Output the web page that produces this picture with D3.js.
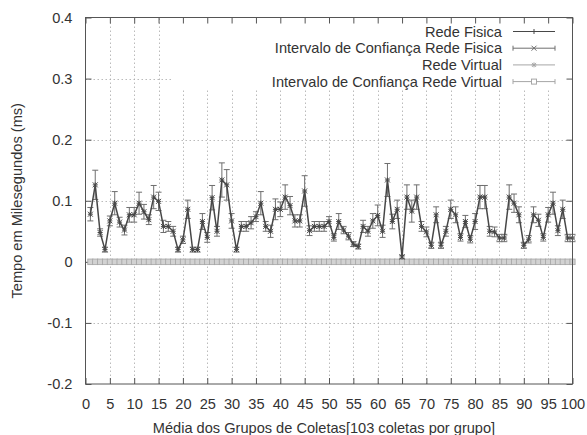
<!DOCTYPE html>
<html>
<head>
<meta charset="utf-8">
<script src="https://cdn.jsdelivr.net/npm/d3@7"></script>
<style>
  html, body { margin: 0; padding: 0; background: #fff; }
  svg { display: block; }
  text { font-family: "Liberation Sans", Arial, sans-serif; fill: #333; }
</style>
</head>
<body>
<svg id="chart" width="587" height="435"></svg>
<script>
// Group index (1..100)
const grupos = [
  1,2,3,4,5,6,7,8,9,10,11,12,13,14,15,16,17,18,19,20,
  21,22,23,24,25,26,27,28,29,30,31,32,33,34,35,36,37,38,39,40,
  41,42,43,44,45,46,47,48,49,50,51,52,53,54,55,56,57,58,59,60,
  61,62,63,64,65,66,67,68,69,70,71,72,73,74,75,76,77,78,79,80,
  81,82,83,84,85,86,87,88,89,90,91,92,93,94,95,96,97,98,99,100
];

// Mean latency per group, physical network (ms)
const redeFisica = [
  0.078,0.126,0.048,0.020,0.067,0.096,0.065,0.052,0.077,0.077,
  0.096,0.082,0.069,0.106,0.099,0.058,0.058,0.050,0.020,0.036,
  0.086,0.020,0.020,0.066,0.040,0.105,0.050,0.134,0.126,0.067,
  0.020,0.058,0.058,0.064,0.074,0.096,0.058,0.050,0.086,0.086,
  0.106,0.092,0.067,0.067,0.116,0.051,0.058,0.058,0.058,0.066,
  0.040,0.066,0.052,0.042,0.029,0.025,0.058,0.050,0.067,0.076,
  0.050,0.134,0.066,0.086,0.008,0.106,0.083,0.106,0.058,0.049,
  0.027,0.077,0.027,0.050,0.086,0.077,0.040,0.066,0.037,0.066,
  0.106,0.106,0.050,0.049,0.039,0.039,0.106,0.096,0.077,0.027,
  0.037,0.077,0.068,0.040,0.077,0.096,0.051,0.086,0.039,0.039
];

// Confidence interval half-width, physical network (ms)
const icFisica = [
  0.011,0.024,0.006,0.004,0.008,0.019,0.008,0.008,0.012,0.012,
  0.018,0.012,0.008,0.019,0.015,0.010,0.008,0.008,0.004,0.006,
  0.015,0.004,0.004,0.013,0.008,0.020,0.008,0.028,0.025,0.012,
  0.004,0.008,0.008,0.010,0.008,0.019,0.008,0.010,0.017,0.012,
  0.020,0.015,0.010,0.010,0.025,0.008,0.008,0.008,0.008,0.008,
  0.006,0.013,0.006,0.006,0.004,0.004,0.010,0.008,0.012,0.017,
  0.010,0.027,0.012,0.015,0.003,0.020,0.018,0.020,0.008,0.008,
  0.005,0.013,0.005,0.008,0.015,0.013,0.006,0.010,0.006,0.013,
  0.019,0.019,0.008,0.008,0.006,0.006,0.020,0.015,0.013,0.005,
  0.006,0.013,0.010,0.006,0.012,0.018,0.008,0.015,0.006,0.006
];

// Mean latency per group, virtual network (ms)
const redeVirtual = [
  0,0,0,0,0,0,0,0,0,0, 0,0,0,0,0,0,0,0,0,0,
  0,0,0,0,0,0,0,0,0,0, 0,0,0,0,0,0,0,0,0,0,
  0,0,0,0,0,0,0,0,0,0, 0,0,0,0,0,0,0,0,0,0,
  0,0,0,0,0,0,0,0,0,0, 0,0,0,0,0,0,0,0,0,0,
  0,0,0,0,0,0,0,0,0,0, 0,0,0,0,0,0,0,0,0,0
];

// Confidence interval half-width, virtual network (ms)
const icVirtual = [
  0.003,0.003,0.003,0.003,0.003,0.003,0.003,0.003,0.003,0.003,
  0.003,0.003,0.003,0.003,0.003,0.003,0.003,0.003,0.003,0.003,
  0.003,0.003,0.003,0.003,0.003,0.003,0.003,0.003,0.003,0.003,
  0.003,0.003,0.003,0.003,0.003,0.003,0.003,0.003,0.003,0.003,
  0.003,0.003,0.003,0.003,0.003,0.003,0.003,0.003,0.003,0.003,
  0.003,0.003,0.003,0.003,0.003,0.003,0.003,0.003,0.003,0.003,
  0.003,0.003,0.003,0.003,0.003,0.003,0.003,0.003,0.003,0.003,
  0.003,0.003,0.003,0.003,0.003,0.003,0.003,0.003,0.003,0.003,
  0.003,0.003,0.003,0.003,0.003,0.003,0.003,0.003,0.003,0.003,
  0.003,0.003,0.003,0.003,0.003,0.003,0.003,0.003,0.003,0.003
];

const xTicks = [0,5,10,15,20,25,30,35,40,45,50,55,60,65,70,75,80,85,90,95,100];
const yTicks = [-0.2,-0.1,0,0.1,0.2,0.3,0.4];
const yTickLabels = ["-0.2","-0.1","0","0.1","0.2","0.3","0.4"];

const legendLabels = [
  "Rede Fisica",
  "Intervalo de Confiança Rede Fisica",
  "Rede Virtual",
  "Intervalo de Confiança Rede Virtual"
];
const xTitle = "Média dos Grupos de Coletas[103 coletas por grupo]";
const yTitle = "Tempo em Milesegundos (ms)";

// ---- layout ----
const L = 85.5, R = 572.5, T = 17.5, B = 384;
const FONT = "14.6px";
const svg = d3.select("#chart");
const x = d3.scaleLinear().domain([0, 100]).range([L, R]);
const y = d3.scaleLinear().domain([-0.2, 0.4]).range([B, T]);

const fis = grupos.map((g, i) => ({ g, v: redeFisica[i], e: icFisica[i] }));
const vir = grupos.map((g, i) => ({ g, v: redeVirtual[i], e: icVirtual[i] }));

const C_BORDER = "#555";
const C_GRID = "#aaa";
const C_FIS = "#474747";
const C_FIS_ERR = "#6e6e6e";
const C_VIR = "#b8b8b8";
const C_VIR_ERR = "#a6a6a6";

// key area (opaque, hides grid)
const key = { x0: 172, x1: R, y0: T, y1: 90.5 };

// ---- grid ----
const grid = svg.append("g").attr("stroke", C_GRID).attr("stroke-width", 0.8)
  .attr("stroke-dasharray", "1.5,2.5").attr("fill", "none");
xTicks.filter(t => t > 0 && t < 100).forEach(t => {
  const px = Math.round(x(t)) + 0.5;
  const top = (px > key.x0 && px < key.x1) ? key.y1 : T;
  grid.append("line").attr("x1", px).attr("x2", px).attr("y1", B).attr("y2", top);
});
yTicks.filter(t => t > -0.2 && t < 0.4).forEach(t => {
  const py = Math.round(y(t)) + 0.5;
  const right = (py > key.y0 && py < key.y1) ? key.x0 : R;
  grid.append("line").attr("x1", L).attr("x2", right).attr("y1", py).attr("y2", py);
});

// ---- axes (ticks inward on all four sides) ----
const tickLen = 6;
const axisBottom = d3.axisBottom(x).tickValues(xTicks).tickSize(-tickLen).tickPadding(tickLen + 9)
  .tickFormat(d3.format("d"));
const axisTop = d3.axisTop(x).tickValues(xTicks).tickSize(-tickLen).tickFormat("");
const axisLeft = d3.axisLeft(y).tickValues(yTicks).tickSize(-tickLen).tickPadding(tickLen + 7)
  .tickFormat((d, i) => yTickLabels[i]);
const axisRight = d3.axisRight(y).tickValues(yTicks).tickSize(-tickLen).tickFormat("");

function styleAxis(g) {
  g.select(".domain").remove();
  g.selectAll(".tick line").attr("stroke", C_BORDER).attr("stroke-width", 1);
  g.selectAll(".tick text").attr("fill", "#333").style("font-size", FONT)
    .style("font-family", '"Liberation Sans", Arial, sans-serif');
}
svg.append("g").attr("transform", `translate(0,${B})`).call(axisBottom).call(styleAxis);
svg.append("g").attr("transform", `translate(0,${T})`).call(axisTop).call(styleAxis);
svg.append("g").attr("transform", `translate(${L},0)`).call(axisLeft).call(styleAxis);
svg.append("g").attr("transform", `translate(${R},0)`).call(axisRight).call(styleAxis);

// ---- virtual network series ----
const gv = svg.append("g");
gv.selectAll("line.err").data(vir).join("line")
  .attr("x1", d => x(d.g)).attr("x2", d => x(d.g))
  .attr("y1", d => y(d.v - d.e)).attr("y2", d => y(d.v + d.e))
  .attr("stroke", C_VIR_ERR).attr("stroke-width", 1);
gv.append("path").datum(vir)
  .attr("d", d3.line().x(d => x(d.g)).y(d => y(d.v)))
  .attr("fill", "none").attr("stroke", C_VIR).attr("stroke-width", 2);
gv.selectAll("rect.box").data(vir).join("rect")
  .attr("x", d => x(d.g) - 2.6).attr("y", d => y(d.v) - 2.8)
  .attr("width", 5.2).attr("height", 5.6)
  .attr("fill", "#d2d2d2").attr("stroke", C_VIR_ERR).attr("stroke-width", 0.8);

// ---- physical network series ----
const gf = svg.append("g");
const capW = 3;
gf.selectAll("line.err").data(fis).join("line")
  .attr("x1", d => x(d.g)).attr("x2", d => x(d.g))
  .attr("y1", d => y(d.v - d.e)).attr("y2", d => y(d.v + d.e))
  .attr("stroke", C_FIS_ERR).attr("stroke-width", 1);
gf.selectAll("line.capHi").data(fis).join("line")
  .attr("x1", d => x(d.g) - capW).attr("x2", d => x(d.g) + capW)
  .attr("y1", d => y(d.v + d.e)).attr("y2", d => y(d.v + d.e))
  .attr("stroke", C_FIS_ERR).attr("stroke-width", 1);
gf.selectAll("line.capLo").data(fis).join("line")
  .attr("x1", d => x(d.g) - capW).attr("x2", d => x(d.g) + capW)
  .attr("y1", d => y(d.v - d.e)).attr("y2", d => y(d.v - d.e))
  .attr("stroke", C_FIS_ERR).attr("stroke-width", 1);
gf.append("path").datum(fis)
  .attr("d", d3.line().x(d => x(d.g)).y(d => y(d.v)))
  .attr("fill", "none").attr("stroke", C_FIS).attr("stroke-width", 1.5);
// "+" / "x" point marks
gf.selectAll("path.mk").data(fis).join("path")
  .attr("d", d => {
    const cx = x(d.g), cy = y(d.v), s = 2.5;
    return `M${cx - s},${cy}H${cx + s}M${cx},${cy - s}V${cy + s}` +
           `M${cx - s},${cy - s}L${cx + s},${cy + s}M${cx - s},${cy + s}L${cx + s},${cy - s}`;
  })
  .attr("stroke", C_FIS).attr("stroke-width", 1).attr("fill", "none");

// ---- border ----
svg.append("rect").attr("x", L).attr("y", T).attr("width", R - L).attr("height", B - T)
  .attr("fill", "none").attr("stroke", C_BORDER).attr("stroke-width", 1);

// ---- key ----
const kg = svg.append("g");
const rowY = [31.5, 48.2, 64.9, 81.6];
const sx0 = 513, sx1 = 555, sxm = (sx0 + sx1) / 2;
legendLabels.forEach((lab, i) => {
  kg.append("text").attr("x", 502).attr("y", rowY[i]).attr("dy", "0.35em")
    .attr("text-anchor", "end").style("font-size", FONT).text(lab);
});
// sample: physical line
kg.append("line").attr("x1", sx0).attr("x2", sx1).attr("y1", rowY[0]).attr("y2", rowY[0])
  .attr("stroke", C_FIS).attr("stroke-width", 1.2);
kg.append("path").attr("d", `M${sxm},${rowY[0] - 2.5}V${rowY[0] + 2.5}`)
  .attr("stroke", C_FIS).attr("stroke-width", 1);
// sample: physical interval
kg.append("line").attr("x1", sx0).attr("x2", sx1).attr("y1", rowY[1]).attr("y2", rowY[1])
  .attr("stroke", C_FIS_ERR).attr("stroke-width", 1);
kg.append("path").attr("d",
  `M${sx0},${rowY[1] - 2.5}V${rowY[1] + 2.5}M${sx1},${rowY[1] - 2.5}V${rowY[1] + 2.5}` +
  `M${sxm - 2.5},${rowY[1] - 2.5}L${sxm + 2.5},${rowY[1] + 2.5}M${sxm - 2.5},${rowY[1] + 2.5}L${sxm + 2.5},${rowY[1] - 2.5}`)
  .attr("stroke", C_FIS_ERR).attr("stroke-width", 1).attr("fill", "none");
// sample: virtual line
kg.append("line").attr("x1", sx0).attr("x2", sx1).attr("y1", rowY[2]).attr("y2", rowY[2])
  .attr("stroke", C_VIR).attr("stroke-width", 1.2);
kg.append("path").attr("d",
  `M${sxm - 2.5},${rowY[2]}H${sxm + 2.5}M${sxm},${rowY[2] - 2.5}V${rowY[2] + 2.5}` +
  `M${sxm - 2},${rowY[2] - 2}L${sxm + 2},${rowY[2] + 2}M${sxm - 2},${rowY[2] + 2}L${sxm + 2},${rowY[2] - 2}`)
  .attr("stroke", C_VIR_ERR).attr("stroke-width", 1);
// sample: virtual interval
kg.append("line").attr("x1", sx0).attr("x2", sx1).attr("y1", rowY[3]).attr("y2", rowY[3])
  .attr("stroke", C_VIR_ERR).attr("stroke-width", 1);
kg.append("path").attr("d",
  `M${sx0},${rowY[3] - 2.5}V${rowY[3] + 2.5}M${sx1},${rowY[3] - 2.5}V${rowY[3] + 2.5}`)
  .attr("stroke", C_VIR_ERR).attr("stroke-width", 1);
kg.append("rect").attr("x", sxm - 2.5).attr("y", rowY[3] - 2.5).attr("width", 5).attr("height", 5)
  .attr("fill", "#fff").attr("stroke", C_VIR_ERR).attr("stroke-width", 1);

// ---- axis titles ----
svg.append("text").attr("x", 324).attr("y", 428).attr("dy", "0.35em")
  .attr("text-anchor", "middle").style("font-size", FONT).text(xTitle);
svg.append("text").attr("transform", `translate(17,${(T + B) / 2}) rotate(-90)`)
  .attr("dy", "0.35em").attr("text-anchor", "middle").style("font-size", FONT).text(yTitle);
</script>
</body>
</html>
